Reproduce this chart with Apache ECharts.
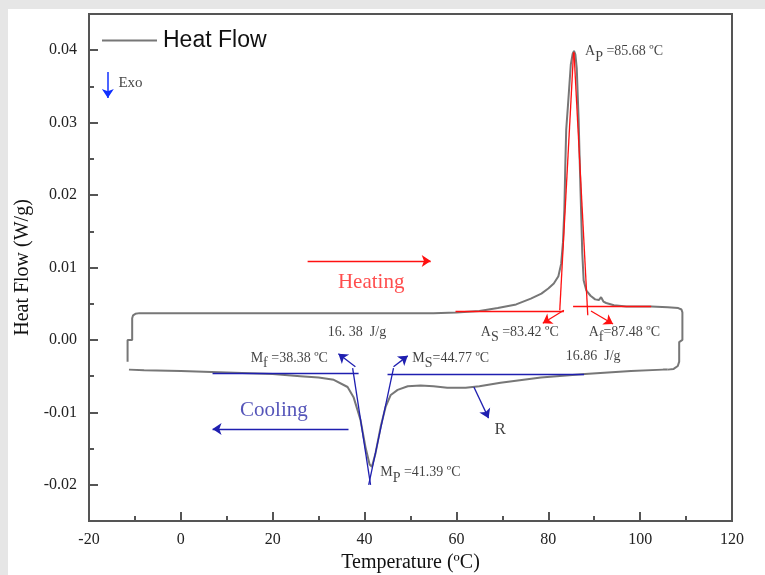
<!DOCTYPE html>
<html>
<head>
<meta charset="utf-8">
<script src="https://cdn.jsdelivr.net/npm/echarts@6/dist/echarts.min.js"></script>
<style>
  html, body { margin: 0; padding: 0; background: #e6e6e6; }
  #chart { position: absolute; left: 8px; top: 9px; width: 757px; height: 566px; background: #fff; }
</style>
</head>
<body>
<div id="chart"></div>
<script>
// DSC loop, [temperature (ºC), heat flow (W/g)]
var heatingCurve = [
  [-11.6, -0.0030], [-11.6, 0.0000], [-10.6, 0.0000], [-10.6, 0.0030], [-10.4, 0.0034],
  [-9.9, 0.0036], [-9.0, 0.0037], [0, 0.0037], [20, 0.0037], [40, 0.0037], [55, 0.0037],
  [60, 0.0038], [65, 0.0040], [69, 0.0044], [73, 0.0049], [76.2, 0.0057], [78.5, 0.0064],
  [80, 0.0071], [81.2, 0.0078], [82.2, 0.0088], [82.8, 0.0105], [83.2, 0.0135], [83.5, 0.0180],
  [83.7, 0.0240], [83.9, 0.0290], [84.3, 0.0325], [84.9, 0.0380], [85.3, 0.0395], [85.6, 0.0399],
  [85.9, 0.0394], [86.2, 0.0375], [86.6, 0.0305], [87.0, 0.0210], [87.4, 0.0120], [87.7, 0.0082],
  [88.3, 0.0068], [89.2, 0.0061], [90.2, 0.0056], [91.0, 0.0055], [91.5, 0.0059], [92.0, 0.0053],
  [92.6, 0.0051], [94.3, 0.0048], [97, 0.0046], [100, 0.0046], [102.4, 0.0046], [106, 0.0045],
  [108.3, 0.0044], [109.0, 0.0042], [109.2, 0.0038], [109.2, 0.0000], [109.5, -0.0001],
  [108.5, -0.0003], [108.5, -0.0030], [108.2, -0.0036], [107.3, -0.0040], [106, -0.0041]
];
var coolingCurve = [
  [106, -0.0041], [105, -0.0041], [98, -0.0043], [88, -0.0047], [78.4, -0.0052], [69.6, -0.0059],
  [65, -0.0064], [62, -0.0066], [58, -0.0066], [55, -0.0064], [52.2, -0.0063], [49.4, -0.0064],
  [47.2, -0.0069], [45.7, -0.0076], [44.6, -0.0092], [43.5, -0.0120], [42.4, -0.0156], [41.6, -0.0175],
  [41.1, -0.0172], [40.2, -0.0148], [39.1, -0.0110], [37.6, -0.0079], [36.3, -0.0065], [33.3, -0.0055],
  [30, -0.0052], [26, -0.0050], [20, -0.0047], [10, -0.0045], [0, -0.0043], [-8, -0.0042], [-11.3, -0.0041]
];

// onset / tangent construction lines
var redLines = [
  [[59.8, 0.0039], [83.4, 0.0039]],
  [[85.4, 0.0046], [102.4, 0.0046]],
  [[82.5, 0.0041], [85.5, 0.0397]],
  [[85.6, 0.0397], [88.6, 0.0034]]
];
var blueLines = [
  [[6.9, -0.00455], [38.7, -0.00455]],
  [[45.0, -0.0047], [87.8, -0.0047]],
  [[37.4, -0.0039], [41.3, -0.0200]],
  [[46.3, -0.0039], [40.9, -0.0200]]
];
var redArrows = [
  [[27.6, 0.0109], [54.4, 0.0109]],
  [[83.4, 0.0041], [78.8, 0.0023]],
  [[89.3, 0.0040], [94.1, 0.0022]]
];
var blueArrows = [
  [[36.5, -0.0123], [6.9, -0.0123]],
  [[38.0, -0.0037], [34.3, -0.0019]],
  [[46.3, -0.0037], [49.4, -0.0022]],
  [[63.8, -0.0065], [67.0, -0.0108]]
];
var exoArrow = [
  [[-15.9, 0.0370], [-15.9, 0.0334]]
];

// text labels: [x, y, text] (x = left edge of text)
var blackLabels = [
  [-13.6, 0.0354, '{e|Exo}'],
  [88.0, 0.0398, '{m|A}{s|P}{m| =85.68 ºC}'],
  [32.0, 0.0010, '{m|16. 38  J/g}'],
  [15.2, -0.0025, '{m|M}{s|f}{m| =38.38 ºC}'],
  [50.4, -0.0025, '{m|M}{s|S}{m|=44.77 ºC}'],
  [43.4, -0.0183, '{m|M}{s|P}{m| =41.39 ºC}'],
  [65.3, 0.0011, '{m|A}{s|S}{m| =83.42 ºC}'],
  [88.8, 0.0011, '{m|A}{s|f}{m|=87.48 ºC}'],
  [83.8, -0.0023, '{m|16.86  J/g}'],
  [68.3, -0.0124, '{r|R}']
];
var colorLabels = [
  [34.2, 0.0079, 'Heating', '#ff2020'],
  [12.9, -0.0097, 'Cooling', '#2a2aa8']
];

var xTicks = { min: -20, max: 120, interval: 20 };
var yTicks = { min: -0.025, max: 0.045 };

var serif = 'Liberation Serif';
var rich = {
  m: { fontFamily: serif, fontSize: 14, color: '#111', lineHeight: 18 },
  s: { fontFamily: serif, fontSize: 14, color: '#111', lineHeight: 18, padding: [11, 0, 0, 0] },
  e: { fontFamily: serif, fontSize: 15, color: '#111' },
  r: { fontFamily: serif, fontSize: 17, color: '#111' }
};

function segs(list) {
  return list.map(function (c) { return { coords: c }; });
}

var chart = echarts.init(document.getElementById('chart'));

var option = {
  animation: false,
  backgroundColor: '#fff',
  grid: {
    left: 81, top: 5, right: 33, bottom: 54,
    outerBoundsMode: 'none', containLabel: false,
    show: true, borderColor: '#555', borderWidth: 2, backgroundColor: 'transparent'
  },
  legend: {
    data: [{ name: 'Heat Flow', icon: 'rect' }],
    left: 94, top: 20, padding: 0,
    itemWidth: 55, itemHeight: 2, itemGap: 6,
    itemStyle: { color: '#777' },
    textStyle: { fontFamily: 'Liberation Sans', fontSize: 23, color: '#111', padding: [0, 0, 0, 1] }
  },
  xAxis: {
    type: 'value', min: xTicks.min, max: xTicks.max, interval: xTicks.interval,
    name: 'Temperature (ºC)', nameLocation: 'middle', nameGap: 32,
    nameTextStyle: { fontFamily: serif, fontSize: 20, color: '#111' },
    axisLine: { onZero: false, lineStyle: { color: '#555', width: 2 } },
    axisTick: { inside: true, length: 9, lineStyle: { color: '#555', width: 2 } },
    minorTick: { show: true, splitNumber: 2, length: 5, lineStyle: { color: '#555', width: 2 } },
    axisLabel: { margin: 11, fontFamily: serif, fontSize: 16, color: '#222' },
    splitLine: { show: false }
  },
  yAxis: {
    type: 'value', min: yTicks.min, max: yTicks.max, splitNumber: 7,
    name: 'Heat Flow (W/g)', nameLocation: 'middle', nameGap: 55,
    nameTextStyle: { fontFamily: serif, fontSize: 20, color: '#111' },
    axisLine: { onZero: false, lineStyle: { color: '#555', width: 2 } },
    axisTick: { inside: true, length: 9, lineStyle: { color: '#555', width: 2 } },
    minorTick: { show: true, splitNumber: 2, length: 5, lineStyle: { color: '#555', width: 2 } },
    axisLabel: {
      margin: 12, fontFamily: serif, fontSize: 16, color: '#222',
      showMinLabel: false, showMaxLabel: false,
      formatter: function (v) { return v.toFixed(2); }
    },
    splitLine: { show: false }
  },
  series: [
    {
      name: 'Heat Flow', type: 'line', data: heatingCurve, symbol: 'none',
      lineStyle: { color: '#777', width: 2 }, itemStyle: { color: '#777' }, z: 3
    },
    {
      name: 'Heat Flow', type: 'line', data: coolingCurve, symbol: 'none',
      lineStyle: { color: '#777', width: 2 }, itemStyle: { color: '#777' }, z: 3
    },
    {
      type: 'lines', coordinateSystem: 'cartesian2d', data: segs(redLines),
      symbol: 'none', lineStyle: { color: '#ff1010', width: 1.3, opacity: 1 }, z: 4
    },
    {
      type: 'lines', coordinateSystem: 'cartesian2d', data: segs(blueLines),
      symbol: 'none', lineStyle: { color: '#1f1fb0', width: 1.3, opacity: 1 }, z: 4
    },
    {
      type: 'lines', coordinateSystem: 'cartesian2d', data: segs(redArrows),
      symbol: ['none', 'arrow'], symbolSize: 9,
      lineStyle: { color: '#ff1010', width: 1.3, opacity: 1 }, z: 4
    },
    {
      type: 'lines', coordinateSystem: 'cartesian2d', data: segs(blueArrows),
      symbol: ['none', 'arrow'], symbolSize: 9,
      lineStyle: { color: '#1f1fb0', width: 1.3, opacity: 1 }, z: 4
    },
    {
      type: 'lines', coordinateSystem: 'cartesian2d', data: segs(exoArrow),
      symbol: ['none', 'arrow'], symbolSize: 9,
      lineStyle: { color: '#1030ff', width: 1.5, opacity: 1 }, z: 4
    },
    {
      type: 'scatter', symbolSize: 0, silent: true, z: 5,
      data: blackLabels.map(function (d) { return { value: [d[0], d[1]], text: d[2] }; }),
      label: {
        show: true, position: 'right', distance: 0, color: '#111',
        formatter: function (p) { return p.data.text; },
        rich: rich
      }
    },
    {
      type: 'scatter', symbolSize: 0, silent: true, z: 5,
      data: colorLabels.map(function (d) {
        return {
          value: [d[0], d[1]],
          label: { formatter: d[2], color: d[3] }
        };
      }),
      label: {
        show: true, position: 'right', distance: 0,
        fontFamily: serif, fontSize: 21
      }
    }
  ]
};

chart.setOption(option);
</script>
</body>
</html>
